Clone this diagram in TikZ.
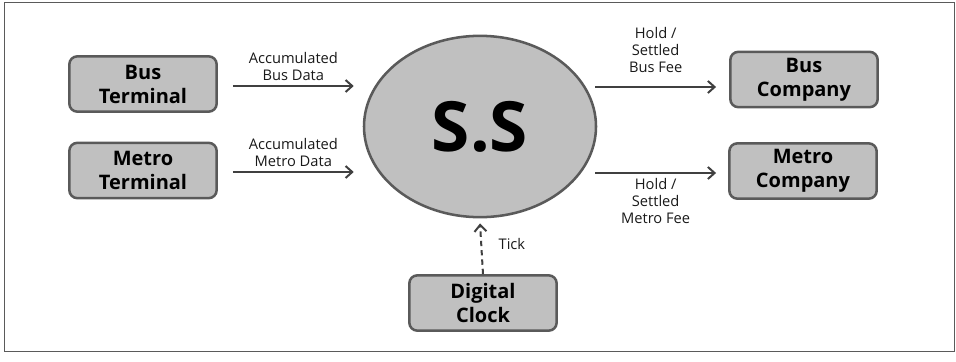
\documentclass[tikz,border=0pt]{standalone}
\usepackage{fontspec}
\setmainfont{Open Sans}
\usetikzlibrary{arrows.meta,shapes.geometric,calc}
\definecolor{boxgray}{HTML}{C0C0C0}
\definecolor{edgegray}{HTML}{5A5A5A}
\definecolor{linegray}{HTML}{404040}
\begin{document}
\begin{tikzpicture}[x=0.75pt,y=-0.75pt,
  entity/.style={draw=edgegray,line width=1.9pt,fill=boxgray,rounded corners=6pt,
    minimum width=110.5pt,minimum height=41.5pt,inner sep=0pt,align=center,
    font=\fontsize{15}{18}\selectfont\bfseries},
  flow/.style={draw=linegray,line width=1.5pt,-{Straight Barb[length=5pt,width=9pt]}},
  lbl/.style={font=\fontsize{11}{12.75}\selectfont,align=center,text=black!90}]
\useasboundingbox (0,0) rectangle (956,361);
\draw[edgegray,line width=0.6pt] (4,2) rectangle (954,351);
% entities
\node[entity] (bt) at (143,84) {Bus\\Terminal};
\node[entity] (mt) at (143,170.5) {Metro\\Terminal};
\node[entity] (bc) at (804,79.5) {Bus\\Company};
\node[entity] (mc) at (803,171) {Metro\\Company};
\node[entity] (dc) at (483,303) {Digital\\Clock};
% process
\node[ellipse,draw=edgegray,line width=1.9pt,fill=boxgray,minimum width=174pt,
  minimum height=136pt,inner sep=0pt,font=\fontsize{52}{52}\selectfont\bfseries]
  (ss) at (480,126.5) {S.S};
% flows
\draw[flow] ($(bt.east)+(15,2)$) -- ($(bt.east -| ss.west)+(-9,2)$)
  node[lbl,above,midway] {Accumulated\\Bus Data};
\draw[flow] ($(mt.east)+(15,1.5)$) -- ($(mt.east -| ss.west)+(-9,1.5)$)
  node[lbl,above,midway] {Accumulated\\Metro Data};
\draw[flow] ($(ss.east |- bc.west)+(-2,7.5)$) -- ($(bc.west)+(-13,7.5)$)
  node[lbl,above=7pt,midway] {Hold /\\Settled\\Bus Fee};
\draw[flow] ($(ss.east |- mc.west)+(-2,2)$) -- ($(mc.west)+(-12,2)$)
  node[lbl,below,midway] {Hold /\\Settled\\Metro Fee};
\draw[flow,dash pattern=on 4pt off 3pt] (dc.north) -- ($(ss.south)+(0,5)$)
  node[lbl,right=9pt,pos=0.6] {Tick};
\end{tikzpicture}
\end{document}
